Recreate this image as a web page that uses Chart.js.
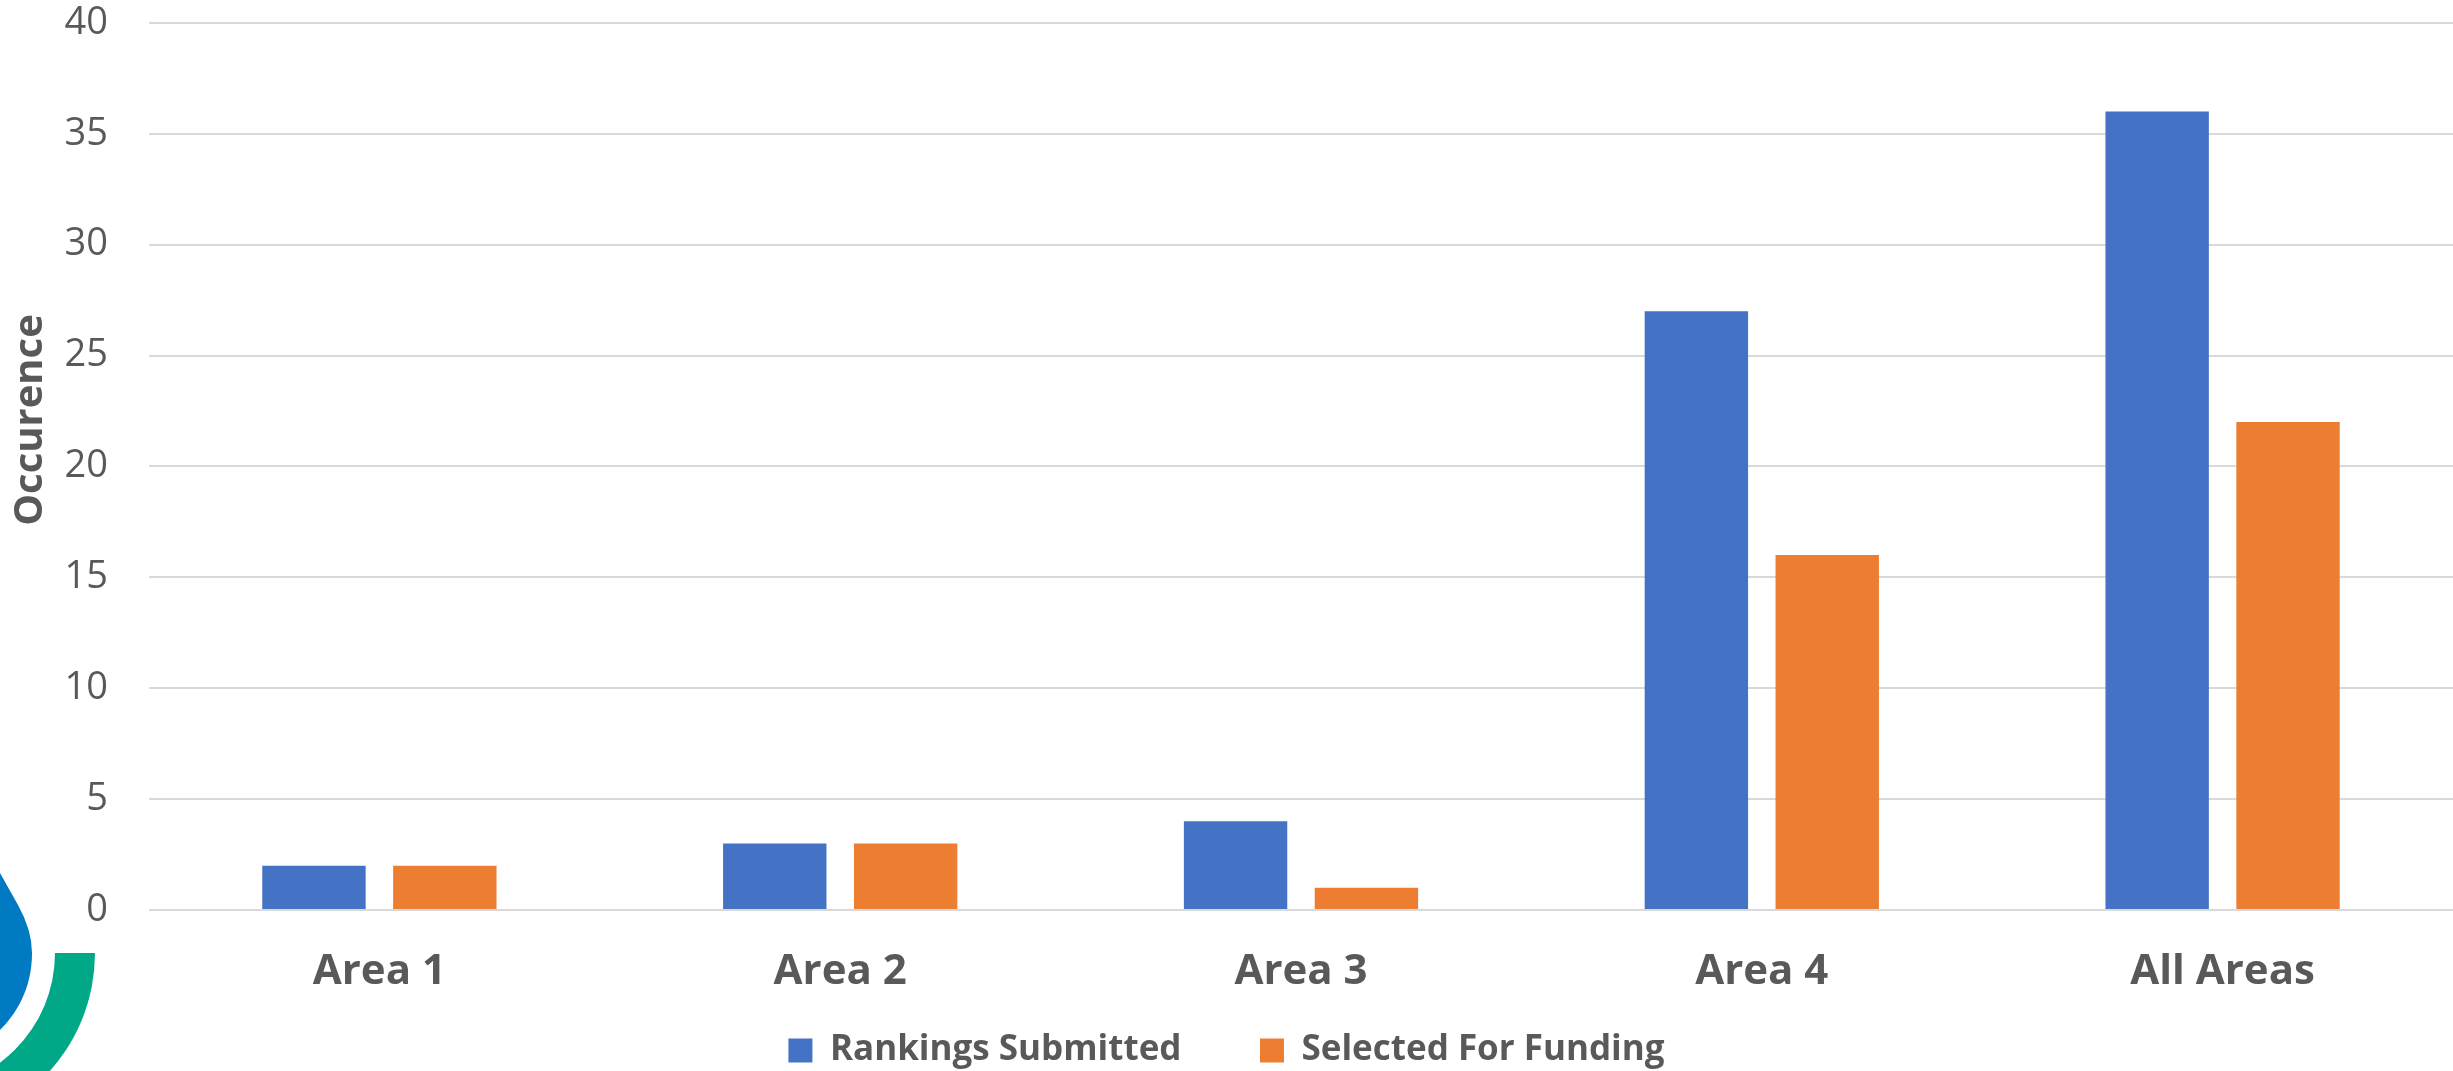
<!DOCTYPE html>
<html>
<head>
<meta charset="utf-8">
<script src="https://cdn.jsdelivr.net/npm/chart.js@4.4.0/dist/chart.umd.min.js"></script>
<style>
  body { margin: 0; background: #fff; }
  #wrap { width: 2453px; height: 1071px; }
</style>
</head>
<body>
<div id="wrap"><canvas id="grafico"></canvas></div>
<script>
// Datos
var categorias = ['Area 1', 'Area 2', 'Area 3', 'Area 4', 'All Areas'];
var rankingsSubmitted = [2, 3, 4, 27, 36];
var selectedForFunding = [2, 3, 1, 16, 22];
var yTicks = [0, 5, 10, 15, 20, 25, 30, 35, 40];

var gris = '#595959';

// logo de la esquina y titulo del eje
var decoracion = {
    id: 'decoracion',
    beforeDraw: function(chart) {
        var ctx = chart.ctx;
        ctx.save();
        ctx.fillStyle = '#007ac2';
        ctx.beginPath();
        ctx.moveTo(0, 873);
        ctx.lineTo(18, 905);
        ctx.quadraticCurveTo(32, 930, 32, 953);
        ctx.bezierCurveTo(32, 990, 15, 1015, 0, 1030);
        ctx.closePath();
        ctx.fill();

        ctx.fillStyle = '#00a887';
        ctx.beginPath();
        ctx.arc(-82, 953, 177, 0, Math.PI / 2);
        ctx.arc(-82, 953, 137, Math.PI / 2, 0, true);
        ctx.closePath();
        ctx.fill();
        ctx.restore();
    },
    afterDraw: function(chart) {
        var ctx = chart.ctx;
        ctx.save();
        ctx.translate(31, 420);
        ctx.rotate(-Math.PI / 2);
        ctx.font = 'bold 40px "Open Sans"';
        ctx.fillStyle = gris;
        ctx.textAlign = 'center';
        ctx.textBaseline = 'middle';
        ctx.fillText('Occurence', 0, 0);
        ctx.restore();
    }
};

var datos = {
    labels: categorias,
    datasets: [
        {
            label: 'Rankings Submitted',
            data: rankingsSubmitted,
            backgroundColor: '#4472c4',
            categoryPercentage: 0.568,
            barPercentage: 0.79
        },
        {
            label: 'Selected For Funding',
            data: selectedForFunding,
            backgroundColor: '#ed7d31',
            categoryPercentage: 0.568,
            barPercentage: 0.79
        }
    ]
};

var config = {
    type: 'bar',
    data: datos,
    plugins: [decoracion],
    options: {
        responsive: true,
        maintainAspectRatio: false,
        animation: false,
        layout: {
            padding: { left: 0, right: 0, top: 0, bottom: -7 }
        },
        plugins: {
            tooltip: { enabled: false },
            legend: {
                position: 'bottom',
                labels: {
                    boxWidth: 24,
                    boxHeight: 24,
                    padding: 33,
                    color: gris,
                    font: { family: '"Open Sans"', size: 35, weight: 'bold' },
                    generateLabels: function(chart) {
                        var items = Chart.defaults.plugins.legend.labels.generateLabels(chart);
                        // espacio extra entre las dos entradas
                        items[0].text = items[0].text + '     ';
                        return items;
                    }
                }
            }
        },
        scales: {
            x: {
                grid: { display: false, drawTicks: false },
                border: { display: false },
                ticks: {
                    color: gris,
                    padding: 37,
                    font: { family: '"Open Sans"', size: 42, weight: 'bold' }
                },
                afterFit: function(scale) {
                    scale.height = 90;
                }
            },
            y: {
                min: 0,
                max: 40,
                afterBuildTicks: function(scale) {
                    scale.ticks = yTicks.map(function(v) { return { value: v }; });
                },
                grid: {
                    color: '#d9d9d9',
                    lineWidth: 2,
                    drawTicks: true,
                    tickLength: 41,
                    tickColor: 'rgba(0,0,0,0)'
                },
                border: { display: false },
                ticks: {
                    color: gris,
                    padding: 0,
                    font: { family: '"Open Sans"', size: 38 }
                },
                afterFit: function(scale) {
                    scale.width = 149;
                }
            }
        }
    }
};

var grafico = new Chart(document.getElementById('grafico'), config);
</script>
</body>
</html>
